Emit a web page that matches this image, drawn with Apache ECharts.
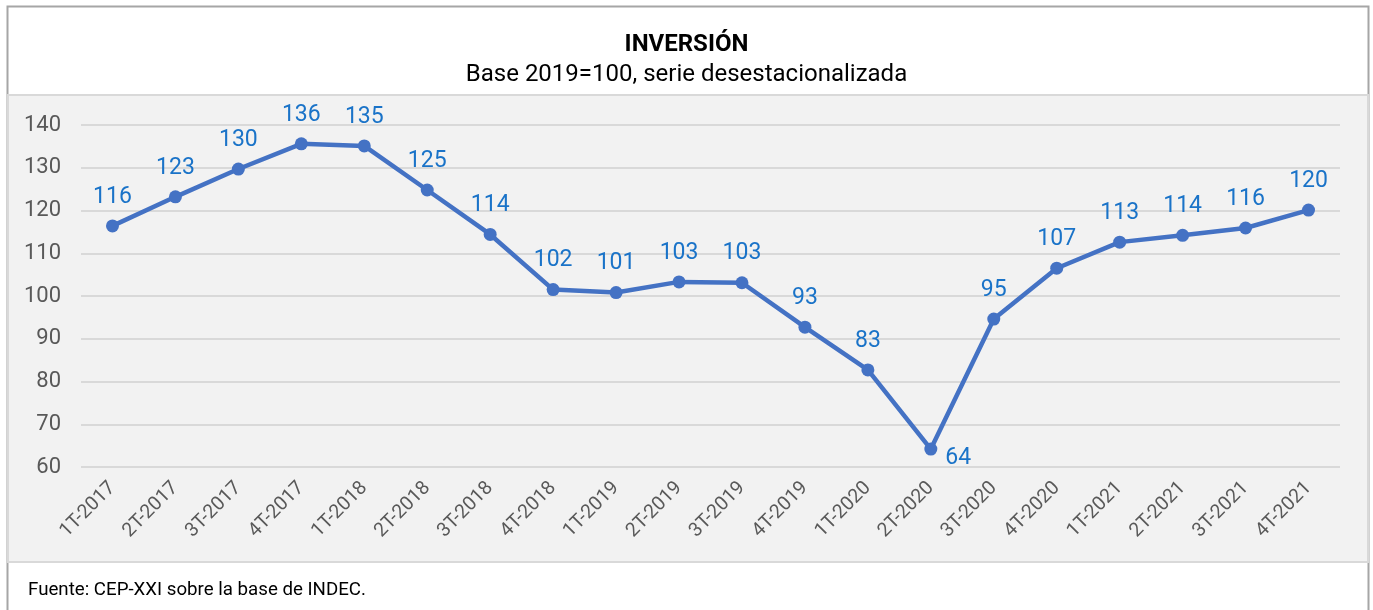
<!DOCTYPE html>
<html>
<head>
<meta charset="utf-8">
<script src="https://cdn.jsdelivr.net/npm/echarts@6/dist/echarts.min.js"></script>
<style>
  html, body { margin: 0; padding: 0; background: #fff; }
  #chart { width: 1373px; height: 610px; }
</style>
</head>
<body>
<div id="chart"></div>
<script>
// datos
var trimestres = ['1T-2017', '2T-2017', '3T-2017', '4T-2017', '1T-2018', '2T-2018', '3T-2018', '4T-2018',
  '1T-2019', '2T-2019', '3T-2019', '4T-2019', '1T-2020', '2T-2020', '3T-2020', '4T-2020',
  '1T-2021', '2T-2021', '3T-2021', '4T-2021'];
var inversion = [116.4, 123.2, 129.7, 135.6, 135.1, 124.8, 114.4, 101.5, 100.8, 103.3,
  103.1, 92.7, 82.7, 64.2, 94.6, 106.5, 112.6, 114.2, 115.9, 120.1];
var ejeY = [60, 140, 10];

var myChart = echarts.init(document.getElementById('chart'));

var datos = inversion.map(function (v, i) {
  if (i === 13) {
    return { value: v, label: { position: 'right', distance: 8, offset: [0, 9] } };
  }
  return v;
});

var option = {
  animation: false,
  textStyle: { fontFamily: 'Roboto' },
  title: {
    text: 'INVERSIÓN',
    subtext: 'Base 2019=100, serie desestacionalizada',
    left: 'center',
    top: 28,
    itemGap: 6,
    textStyle: { fontFamily: 'Roboto', fontSize: 24, fontWeight: 'bold', color: '#000' },
    subtextStyle: { fontFamily: 'Roboto', fontSize: 24, color: '#000' }
  },
  graphic: [
    { type: 'rect', z: -10, shape: { x: 7.5, y: 6.5, width: 1361, height: 610 }, style: { fill: '#fff', stroke: '#a6a6a6', lineWidth: 2 } },
    { type: 'rect', z: -9, shape: { x: 8, y: 95, width: 1360, height: 467 }, style: { fill: '#f2f2f2', stroke: '#d9d9d9', lineWidth: 2 } },
    { type: 'text', left: 28, top: 581, style: { text: 'Fuente: CEP-XXI sobre la base de INDEC.', font: '18.7px Roboto', fill: '#000' } }
  ],
  grid: { left: 81, right: 33, top: 125, bottom: 143 },
  xAxis: {
    type: 'category',
    data: trimestres,
    boundaryGap: true,
    axisLine: { show: false },
    axisTick: { show: false },
    axisLabel: { rotate: 45, color: '#595959', fontSize: 19.5, margin: 18 }
  },
  yAxis: {
    type: 'value',
    min: ejeY[0],
    max: ejeY[1],
    interval: ejeY[2],
    axisLine: { show: false },
    axisTick: { show: false },
    axisLabel: { color: '#595959', fontSize: 22, margin: 20 },
    splitLine: { lineStyle: { color: '#d9d9d9', width: 2 } }
  },
  series: [{
    type: 'line',
    data: datos,
    symbol: 'circle',
    symbolSize: 13,
    lineStyle: { color: '#4472c4', width: 4.5 },
    itemStyle: { color: '#4472c4' },
    label: {
      show: true,
      position: 'top',
      distance: 11,
      color: '#1a73c8',
      fontSize: 23,
      formatter: function (p) { return Math.round(p.value); }
    }
  }]
};

myChart.setOption(option);
</script>
</body>
</html>
